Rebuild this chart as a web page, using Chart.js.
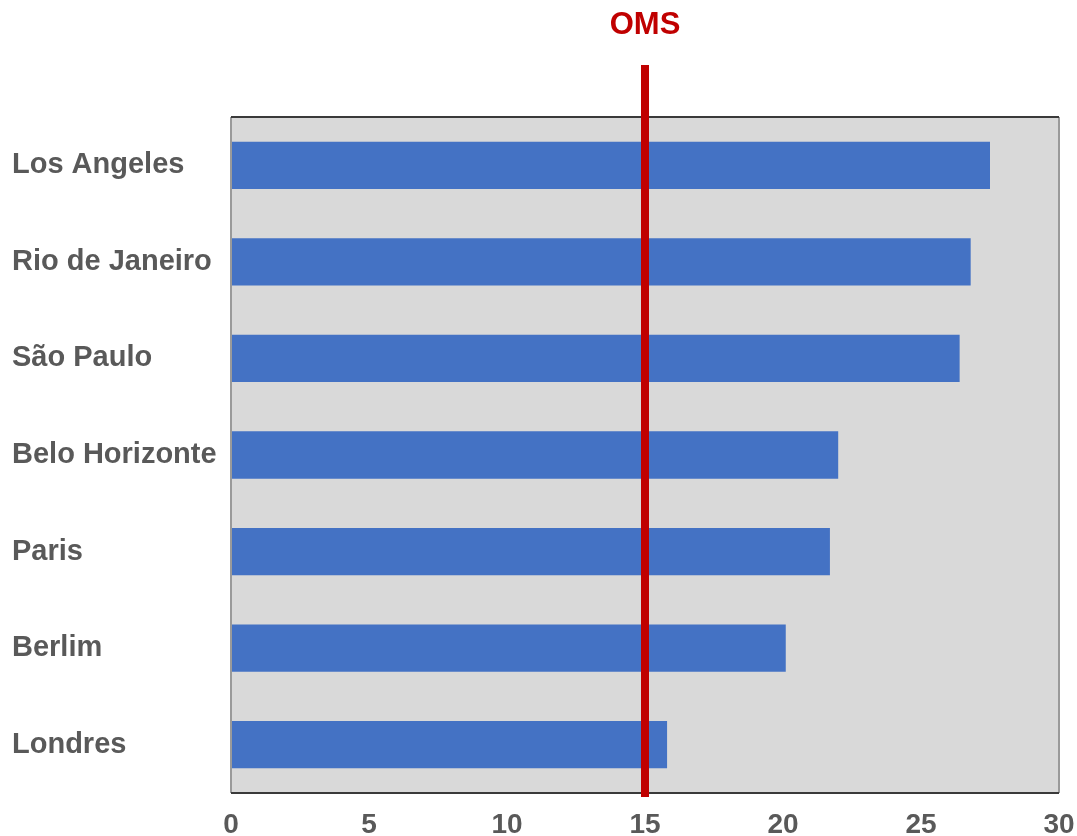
<!DOCTYPE html>
<html>
<head>
<meta charset="utf-8">
<script src="https://cdn.jsdelivr.net/npm/chart.js@4/dist/chart.umd.min.js"></script>
<style>
  html, body { margin: 0; padding: 0; background: #fff; }
  #wrap { width: 1077px; height: 836px; }
</style>
</head>
<body>
<div id="wrap"><canvas id="grafico"></canvas></div>
<script>
// datos
const cidades = ["Los Angeles", "Rio de Janeiro", "São Paulo", "Belo Horizonte", "Paris", "Berlim", "Londres"];
const valores = [27.5, 26.8, 26.4, 22.0, 21.7, 20.1, 15.8];
const ticksX = [0, 5, 10, 15, 20, 25, 30];
const limiteOMS = 15;
const rotuloOMS = "OMS";

// fondo gris del área, borde y línea de la OMS
const fundoPlot = {
  id: "fundoPlot",
  beforeDatasetsDraw(chart) {
    const { ctx, chartArea: a } = chart;
    ctx.save();
    ctx.fillStyle = "#d9d9d9";
    ctx.fillRect(a.left, a.top, a.right - a.left, a.bottom - a.top);
    ctx.restore();
  },
  afterDatasetsDraw(chart) {
    const { ctx, chartArea: a, scales } = chart;
    ctx.save();
    // lados
    ctx.strokeStyle = "#9a9a9a";
    ctx.lineWidth = 2;
    ctx.beginPath();
    ctx.moveTo(a.left, a.top); ctx.lineTo(a.left, a.bottom);
    ctx.moveTo(a.right, a.top); ctx.lineTo(a.right, a.bottom);
    ctx.stroke();
    // arriba y abajo
    ctx.strokeStyle = "#3a3a3a";
    ctx.beginPath();
    ctx.moveTo(a.left, a.top); ctx.lineTo(a.right, a.top);
    ctx.moveTo(a.left, a.bottom); ctx.lineTo(a.right, a.bottom);
    ctx.stroke();

    // línea OMS
    const x = scales.x.getPixelForValue(limiteOMS);
    ctx.strokeStyle = "#c00000";
    ctx.lineWidth = 8;
    ctx.beginPath();
    ctx.moveTo(x, a.top - 52);
    ctx.lineTo(x, a.bottom + 4);
    ctx.stroke();

    ctx.fillStyle = "#c00000";
    ctx.font = "bold 31px 'Liberation Sans', Arial, sans-serif";
    ctx.textAlign = "center";
    ctx.textBaseline = "middle";
    ctx.fillText(rotuloOMS, x, 25);
    ctx.restore();
  }
};

new Chart(document.getElementById("grafico").getContext("2d"), {
  type: "bar",
  data: {
    labels: cidades,
    datasets: [
      {
        label: "Cidades",
        data: valores,
        backgroundColor: "#4472c4",
        borderWidth: 0,
        categoryPercentage: 1,
        barPercentage: 0.49,
      },
    ],
  },
  options: {
    indexAxis: "y",
    responsive: true,
    maintainAspectRatio: false,
    animation: false,
    layout: { padding: { top: 117, left: 12, right: 0, bottom: 0 } },
    plugins: {
      legend: { display: false },
      tooltip: { enabled: false },
    },
    scales: {
      x: {
        min: 0,
        max: 30,
        afterBuildTicks: (s) => { s.ticks = ticksX.map((v) => ({ value: v })); },
        afterFit: (s) => { s.height = 43; s.paddingRight = 18; },
        grid: { display: false },
        border: { display: false },
        ticks: {
          padding: 7,
          color: "#595959",
          font: { family: "'Liberation Sans', Arial, sans-serif", size: 28, weight: "bold" },
        },
      },
      y: {
        afterFit: (s) => { s.width = 219; },
        grid: { display: false },
        border: { display: false },
        ticks: {
          crossAlign: "far",
          color: "#595959",
          font: { family: "'Liberation Sans', Arial, sans-serif", size: 29, weight: "bold" },
        },
      },
    },
  },
  plugins: [fundoPlot],
});
</script>
</body>
</html>
